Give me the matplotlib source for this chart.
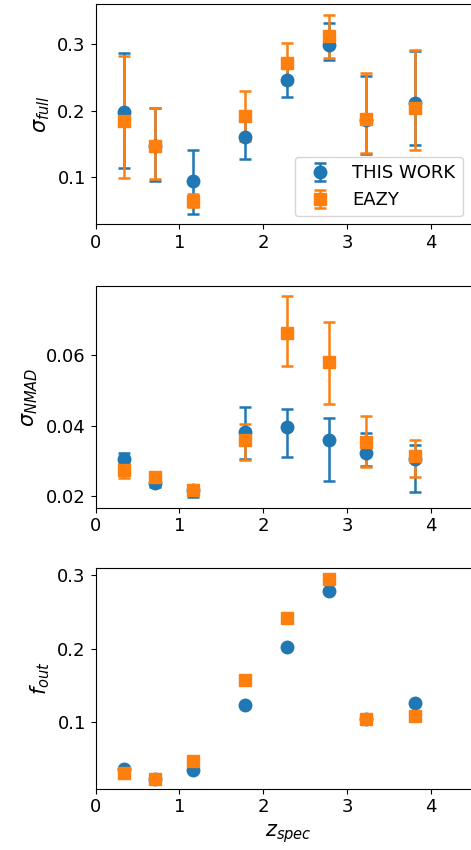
import matplotlib
matplotlib.use("Agg")
import matplotlib.pyplot as plt
import numpy as np

z_spec = [0.34, 0.71, 1.16, 1.78, 2.28, 2.79, 3.23, 3.81]
labels = ["THIS WORK", "EAZY"]
xticks = [0, 1, 2, 3, 4]

# sigma_full
sf_this = [0.198, 0.146, 0.094, 0.160, 0.247, 0.299, 0.186, 0.211]
sf_this_hi = [0.287, 0.204, 0.141, 0.193, 0.274, 0.332, 0.253, 0.290]
sf_this_lo = [0.114, 0.094, 0.044, 0.127, 0.220, 0.276, 0.135, 0.148]
sf_eazy = [0.185, 0.146, 0.063, 0.192, 0.272, 0.3125, 0.187, 0.204]
sf_eazy_hi = [0.283, 0.204, 0.074, 0.230, 0.3015, 0.345, 0.257, 0.291]
sf_eazy_lo = [0.098, 0.097, 0.054, 0.154, 0.243, 0.280, 0.136, 0.141]

# sigma_NMAD
sn_this = [0.0305, 0.0236, 0.0216, 0.0383, 0.0395, 0.0359, 0.0323, 0.0305]
sn_this_hi = [0.0323, 0.0245, 0.0232, 0.0454, 0.0447, 0.0421, 0.0378, 0.0345]
sn_this_lo = [0.0287, 0.0227, 0.0198, 0.0305, 0.0312, 0.0243, 0.0286, 0.0211]
sn_eazy = [0.0274, 0.0255, 0.0216, 0.0358, 0.0664, 0.0581, 0.0355, 0.0314]
sn_eazy_hi = [0.0297, 0.0260, 0.0222, 0.0406, 0.0769, 0.0696, 0.0428, 0.0359]
sn_eazy_lo = [0.0251, 0.0250, 0.0210, 0.0303, 0.0570, 0.0463, 0.0282, 0.0255]

# f_out
fo_this = [0.0367, 0.0230, 0.0358, 0.1235, 0.2023, 0.2787, 0.105, 0.1258]
fo_eazy = [0.0308, 0.0226, 0.0475, 0.157, 0.2416, 0.295, 0.105, 0.1081]

plt.rcParams['font.size'] = 13
plt.rcParams['mathtext.fontset'] = 'dejavusans'

fig = plt.figure(figsize=(4.71, 8.5), dpi=100)
left, width = 0.2028, 0.8185
ax1 = fig.add_axes([left, 0.7365, width, 0.2588])
ax2 = fig.add_axes([left, 0.4027, width, 0.2608])
ax3 = fig.add_axes([left, 0.0721, width, 0.2593])

blue = '#1f77b4'
orange = '#ff7f0e'
ekw = dict(capsize=4, elinewidth=1.8, capthick=1.8, linestyle='none')


def errs(v, lo, hi):
    v = np.array(v); lo = np.array(lo); hi = np.array(hi)
    return np.vstack([v - lo, hi - v])


ax1.errorbar(z_spec, sf_this, yerr=errs(sf_this, sf_this_lo, sf_this_hi),
             fmt='o', color=blue, ms=9, label=labels[0], **ekw)
ax1.errorbar(z_spec, sf_eazy, yerr=errs(sf_eazy, sf_eazy_lo, sf_eazy_hi),
             fmt='s', color=orange, ms=8, label=labels[1], **ekw)
ax1.set_ylim(0.029, 0.361)
ax1.set_yticks([0.1, 0.2, 0.3])
ax1.set_ylabel(r'$\sigma_{full}$', fontsize=15)
leg = ax1.legend(loc='lower right', bbox_to_anchor=(0.9525, 0.035),
                 borderaxespad=0, fontsize=13)

ax2.errorbar(z_spec, sn_this, yerr=errs(sn_this, sn_this_lo, sn_this_hi),
             fmt='o', color=blue, ms=9, **ekw)
ax2.errorbar(z_spec, sn_eazy, yerr=errs(sn_eazy, sn_eazy_lo, sn_eazy_hi),
             fmt='s', color=orange, ms=8, **ekw)
ax2.set_ylim(0.0167, 0.0797)
ax2.set_yticks([0.02, 0.04, 0.06])
ax2.set_ylabel(r'$\sigma_{NMAD}$', fontsize=15)

ax3.plot(z_spec, fo_this, 'o', color=blue, ms=9)
ax3.plot(z_spec, fo_eazy, 's', color=orange, ms=8)
ax3.set_ylim(0.010, 0.309)
ax3.set_yticks([0.1, 0.2, 0.3])
ax3.set_ylabel(r'$f_{out}$', fontsize=15)
ax3.set_xlabel(r'$z_{spec}$', fontsize=15)

for ax in (ax1, ax2, ax3):
    ax.set_xlim(0, 4.6)
    ax.set_xticks(xticks)

fig.savefig('out.png', dpi=100)
